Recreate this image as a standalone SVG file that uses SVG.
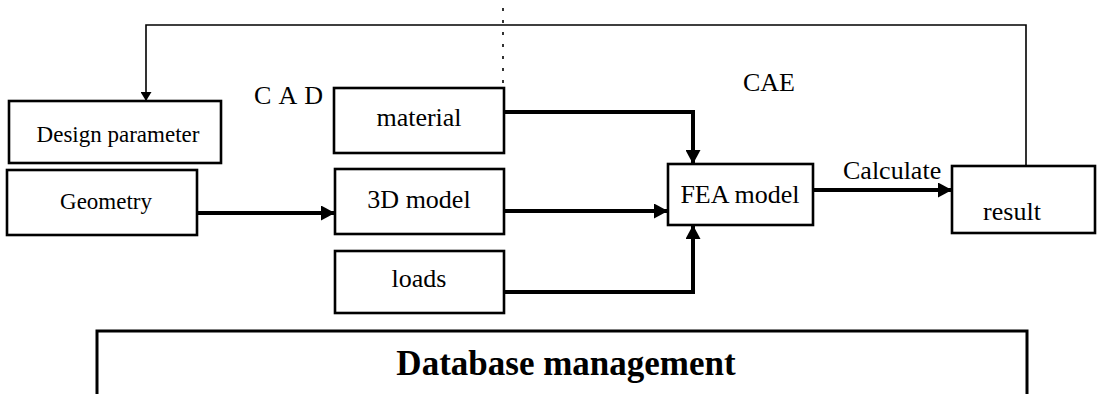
<svg xmlns="http://www.w3.org/2000/svg" width="1101" height="394" viewBox="0 0 1101 394">
<style>
.box{fill:#fff;stroke:#000;stroke-width:2.6}
.t{font-family:"Liberation Serif","Times New Roman",serif;font-size:26px;fill:#000}
.s{font-size:23px}
.b{font-weight:bold;font-size:35px}
.thick{fill:none;stroke:#000;stroke-width:4}
.thin{fill:none;stroke:#000;stroke-width:1.6}
</style>
<defs>
<marker id="ah" markerUnits="userSpaceOnUse" markerWidth="15" markerHeight="15" refX="14" refY="7.5" orient="auto">
<path d="M0,0 L14,7.5 L0,15 z" fill="#000"/>
</marker>
<marker id="ahs" markerUnits="userSpaceOnUse" markerWidth="11" markerHeight="11" refX="9" refY="5.5" orient="auto">
<path d="M0,0 L9,5.5 L0,11 z" fill="#000"/>
</marker>
</defs>
<rect width="1101" height="394" fill="#fff"/>
<g id="connectors">
<line x1="503" y1="8" x2="503" y2="86" stroke="#000" stroke-width="1.6" stroke-dasharray="3 9"/>
<path class="thin" d="M1026,166 V25 H146 V101" marker-end="url(#ahs)"/>
<path class="thick" d="M197,213 H335" marker-end="url(#ah)"/>
<path class="thick" d="M504,112 H693 V164" marker-end="url(#ah)"/>
<path class="thick" d="M504,211 H668" marker-end="url(#ah)"/>
<path class="thick" d="M504,292 H693 V225" marker-end="url(#ah)"/>
<path class="thick" d="M813,190 H952" marker-end="url(#ah)"/>
</g>
<g id="labels">
<text class="t" x="254" y="104" letter-spacing="1">C A D</text>
<text class="t" x="743" y="91">CAE</text>
<text class="t" x="843" y="179">Calculate</text>
</g>
<g id="design-parameter">
<rect class="box" x="9" y="101" width="212" height="62"/>
<text class="t s" x="118" y="142" text-anchor="middle">Design parameter</text>
</g>
<g id="geometry">
<rect class="box" x="7" y="170" width="190" height="65"/>
<text class="t s" x="106" y="209" text-anchor="middle">Geometry</text>
</g>
<g id="material">
<rect class="box" x="334" y="88" width="170" height="65"/>
<text class="t" x="419" y="126" text-anchor="middle">material</text>
</g>
<g id="model3d">
<rect class="box" x="335" y="169" width="169" height="65"/>
<text class="t" x="419" y="208" text-anchor="middle">3D model</text>
</g>
<g id="loads">
<rect class="box" x="335" y="251" width="169" height="62"/>
<text class="t" x="419" y="287" text-anchor="middle">loads</text>
</g>
<g id="fea-model">
<rect class="box" x="668" y="164" width="145" height="61"/>
<text class="t" x="740" y="203" text-anchor="middle">FEA model</text>
</g>
<g id="result">
<rect class="box" x="952" y="166" width="143" height="67"/>
<text class="t" x="1012" y="220" text-anchor="middle">result</text>
</g>
<g id="database">
<path d="M97,400 V331 H1027 V400" fill="#fff" stroke="#000" stroke-width="3"/>
<text class="t b" x="566" y="375" text-anchor="middle">Database management</text>
</g>
</svg>
